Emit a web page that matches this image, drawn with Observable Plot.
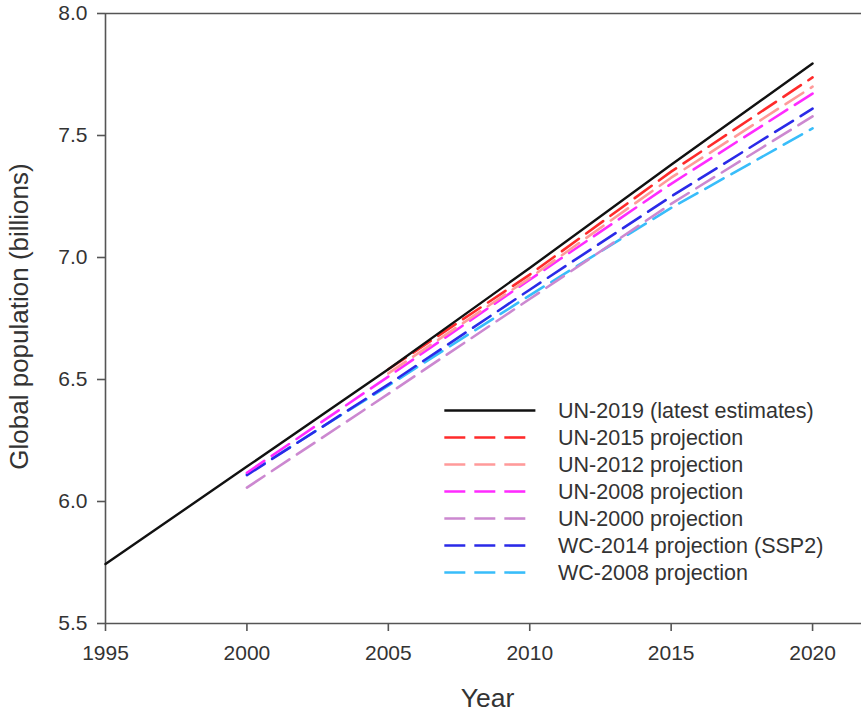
<!DOCTYPE html>
<html>
<head>
<meta charset="utf-8">
<script src="https://cdn.jsdelivr.net/npm/d3@7"></script>
<script src="https://cdn.jsdelivr.net/npm/@observablehq/plot@0.6"></script>
<style>
  html, body { margin: 0; padding: 0; background: #fff; }
  #chart svg { display: block; }
</style>
</head>
<body>
<div id="chart"></div>
<script>
// ---- Data (billions) ----
const seriesNames = [
  "UN-2019 (latest estimates)",
  "UN-2015 projection",
  "UN-2012 projection",
  "UN-2008 projection",
  "UN-2000 projection",
  "WC-2014 projection (SSP2)",
  "WC-2008 projection"
];
const seriesColors = ["#111111", "#ff2b2b", "#ff9a9a", "#ff2bff", "#cc88d0", "#2a2ae8", "#38bdfa"];

const yearsUN2019 = [1995, 2000, 2005, 2010, 2015, 2020];
const valuesUN2019 = [5.744, 6.143, 6.542, 6.957, 7.380, 7.795];

const yearsUN2015 = [2005, 2010, 2015, 2020];
const valuesUN2015 = [6.542, 6.930, 7.352, 7.738];

const yearsUN2012 = [2005, 2010, 2015, 2020];
const valuesUN2012 = [6.525, 6.916, 7.327, 7.700];

const yearsUN2008 = [2000, 2005, 2010, 2015, 2020];
const valuesUN2008 = [6.118, 6.512, 6.909, 7.302, 7.672];

const yearsUN2000 = [2000, 2005, 2010, 2015, 2020];
const valuesUN2000 = [6.057, 6.441, 6.830, 7.220, 7.578];

const yearsWC2014 = [2000, 2005, 2010, 2015, 2020];
const valuesWC2014 = [6.108, 6.480, 6.868, 7.250, 7.610];

const yearsWC2008 = [2000, 2005, 2010, 2015, 2020];
const valuesWC2008 = [6.112, 6.475, 6.845, 7.203, 7.529];

const xTicks = [1995, 2000, 2005, 2010, 2015, 2020];
const yTicks = [5.5, 6.0, 6.5, 7.0, 7.5, 8.0];

// ---- Build table ----
const allYears = [yearsUN2019, yearsUN2015, yearsUN2012, yearsUN2008, yearsUN2000, yearsWC2014, yearsWC2008];
const allValues = [valuesUN2019, valuesUN2015, valuesUN2012, valuesUN2008, valuesUN2000, valuesWC2014, valuesWC2008];
const rows = [];
seriesNames.forEach((name, i) => {
  allYears[i].forEach((yr, j) => rows.push({series: name, year: yr, value: allValues[i][j], idx: i}));
});

const xMin = 1995, xMax = 2021.73;
const dash = "21,9";

// legend layout (data space)
const legX1 = 2006.98, legX2Solid = 2010.2, legX2Dash = 2009.9, legTextX = 2011.0;
const legY0 = 6.373, legStep = 0.1107;
const legendRows = seriesNames.map((name, i) => ({
  series: name, idx: i,
  y: legY0 - i * legStep,
  x2: i === 0 ? legX2Solid : legX2Dash
}));

const font = "'Liberation Sans', Arial, Helvetica, sans-serif";

const marks = [
  // frame: top, bottom, left
  Plot.ruleY([8.0, 5.5], {x1: xMin, x2: xMax, stroke: "#555", strokeWidth: 1.6}),
  Plot.ruleX([1995], {y1: 5.5, y2: 8.0, stroke: "#555", strokeWidth: 1.6}),
  Plot.axisX({ticks: xTicks, tickSize: 8, tickPadding: 14, tickFormat: d => String(d), fontSize: 21, stroke: "#555", strokeWidth: 1.6, fill: "#333", label: null}),
  Plot.axisY({ticks: yTicks, tickSize: 8, tickPadding: 10, tickFormat: d3.format(".1f"), fontSize: 21, stroke: "#555", strokeWidth: 1.6, fill: "#333", label: null}),
];

// projection lines (draw from last to first so UN lines overlay)
for (let i = seriesNames.length - 1; i >= 0; i--) {
  const d = rows.filter(r => r.idx === i);
  marks.push(Plot.line(d, {
    x: "year", y: "value",
    stroke: seriesColors[i],
    strokeWidth: i === 0 ? 2.4 : 2.6,
    strokeDasharray: i === 0 ? null : dash,
    strokeLinecap: "round"
  }));
}

// legend
legendRows.forEach(r => {
  marks.push(Plot.link([r], {
    x1: () => legX1, x2: "x2", y1: "y", y2: "y",
    stroke: seriesColors[r.idx],
    strokeWidth: r.idx === 0 ? 2.4 : 2.6,
    strokeDasharray: r.idx === 0 ? null : dash
  }));
});
marks.push(Plot.text(legendRows, {
  x: () => legTextX, y: "y", text: "series",
  textAnchor: "start", fontSize: 21.5, fill: "#333", dy: 1
}));

// axis titles
marks.push(Plot.text(["Year"], {frameAnchor: "bottom", dy: 75, fontSize: 26.5, fill: "#333", lineAnchor: "middle", dx: 4}));
marks.push(Plot.text(["Global population (billions)"], {frameAnchor: "left", dx: -86, dy: -2, rotate: -90, fontSize: 26, fill: "#333", textAnchor: "middle"}));

const chart = Plot.plot({
  width: 861,
  height: 713,
  marginLeft: 105,
  marginRight: 0,
  marginTop: 13,
  marginBottom: 90,
  style: {fontFamily: font, background: "#fff", overflow: "visible"},
  x: {domain: [xMin, xMax]},
  y: {domain: [5.5, 8.0]},
  marks
});
document.getElementById("chart").appendChild(chart);
</script>
</body>
</html>
